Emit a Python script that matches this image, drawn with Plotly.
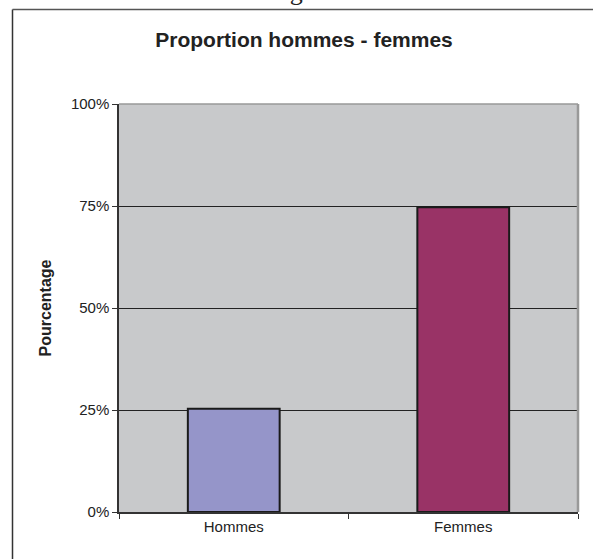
import plotly.graph_objects as go

categories = ["Hommes", "Femmes"]
values = [25.3, 74.7]
colors = ["#9595C9", "#993366"]
tick_vals = [0, 25, 50, 75, 100]
tick_text = ["0%", "25%", "50%", "75%", "100%"]

W, H = 593, 559
L, T = 119, 104
R = W - 578
B = H - 512
pw, ph = W - L - R, H - T - B

def px_x(x):  # page pixel -> paper
    return (x - L) / pw

def px_y(y):
    return (H - B - y) / ph

fig = go.Figure()
fig.add_trace(go.Bar(
    x=categories, y=values,
    marker=dict(color=colors, line=dict(color="#1a1a1a", width=2)),
    width=0.4,
))

fig.update_layout(
    width=W, height=H,
    margin=dict(l=L, r=R, t=T, b=B),
    paper_bgcolor="white",
    plot_bgcolor="#C8C9CB",
    showlegend=False,
    font=dict(family="Liberation Sans, Arial, sans-serif", size=15, color="#222"),
    title=dict(text="<b>Proportion hommes - femmes</b>", x=304 / W, xanchor="center",
               y=1 - 40 / H, yanchor="middle",
               font=dict(size=21, color="#222", family="Liberation Sans, Arial, sans-serif")),
    xaxis=dict(
        showgrid=False, showline=True, linecolor="#333", linewidth=1.5,
        ticks="outside", ticklen=5, tickcolor="#333", tickson="boundaries",
        tickfont=dict(size=15), range=[-0.5, 1.5],
    ),
    yaxis=dict(
        range=[0, 100], tickvals=tick_vals, ticktext=tick_text,
        showgrid=True, gridcolor="#222", gridwidth=1,
        showline=True, linecolor="#333", linewidth=1.5,
        ticks="outside", ticklen=5, tickcolor="#333",
        tickfont=dict(size=15),
        title=dict(text="<b>Pourcentage</b>", font=dict(size=16), standoff=15),
        zeroline=False,
    ),
)

# plot-area right and top border (gray)
fig.add_shape(type="line", xref="paper", yref="paper", x0=1, x1=1, y0=0, y1=1,
              line=dict(color="#999", width=2.5))
fig.add_shape(type="line", xref="paper", yref="paper", x0=0, x1=1, y0=1, y1=1,
              line=dict(color="#999", width=1.5), layer="below")

# outer frame: only left and top edges are visible
fig.add_shape(type="line", xref="paper", yref="paper",
              x0=px_x(12.5), x1=px_x(12.5), y0=px_y(600), y1=px_y(9.5),
              line=dict(color="#333", width=1.5))
fig.add_shape(type="line", xref="paper", yref="paper",
              x0=px_x(12.5), x1=px_x(620), y0=px_y(9.5), y1=px_y(9.5),
              line=dict(color="#555", width=1.5))

# cropped page caption above the frame
fig.add_annotation(text="Fig 39", xref="paper", yref="paper",
                   x=px_x(301), y=px_y(8), xanchor="center", yanchor="bottom",
                   showarrow=False,
                   font=dict(family="Liberation Serif, Times New Roman, serif", size=26, color="#222"))

fig.write_html(
    "out.html",
    config={"displayModeBar": False},
    post_script="document.body.style.margin='0';document.body.style.overflow='hidden';",
)
